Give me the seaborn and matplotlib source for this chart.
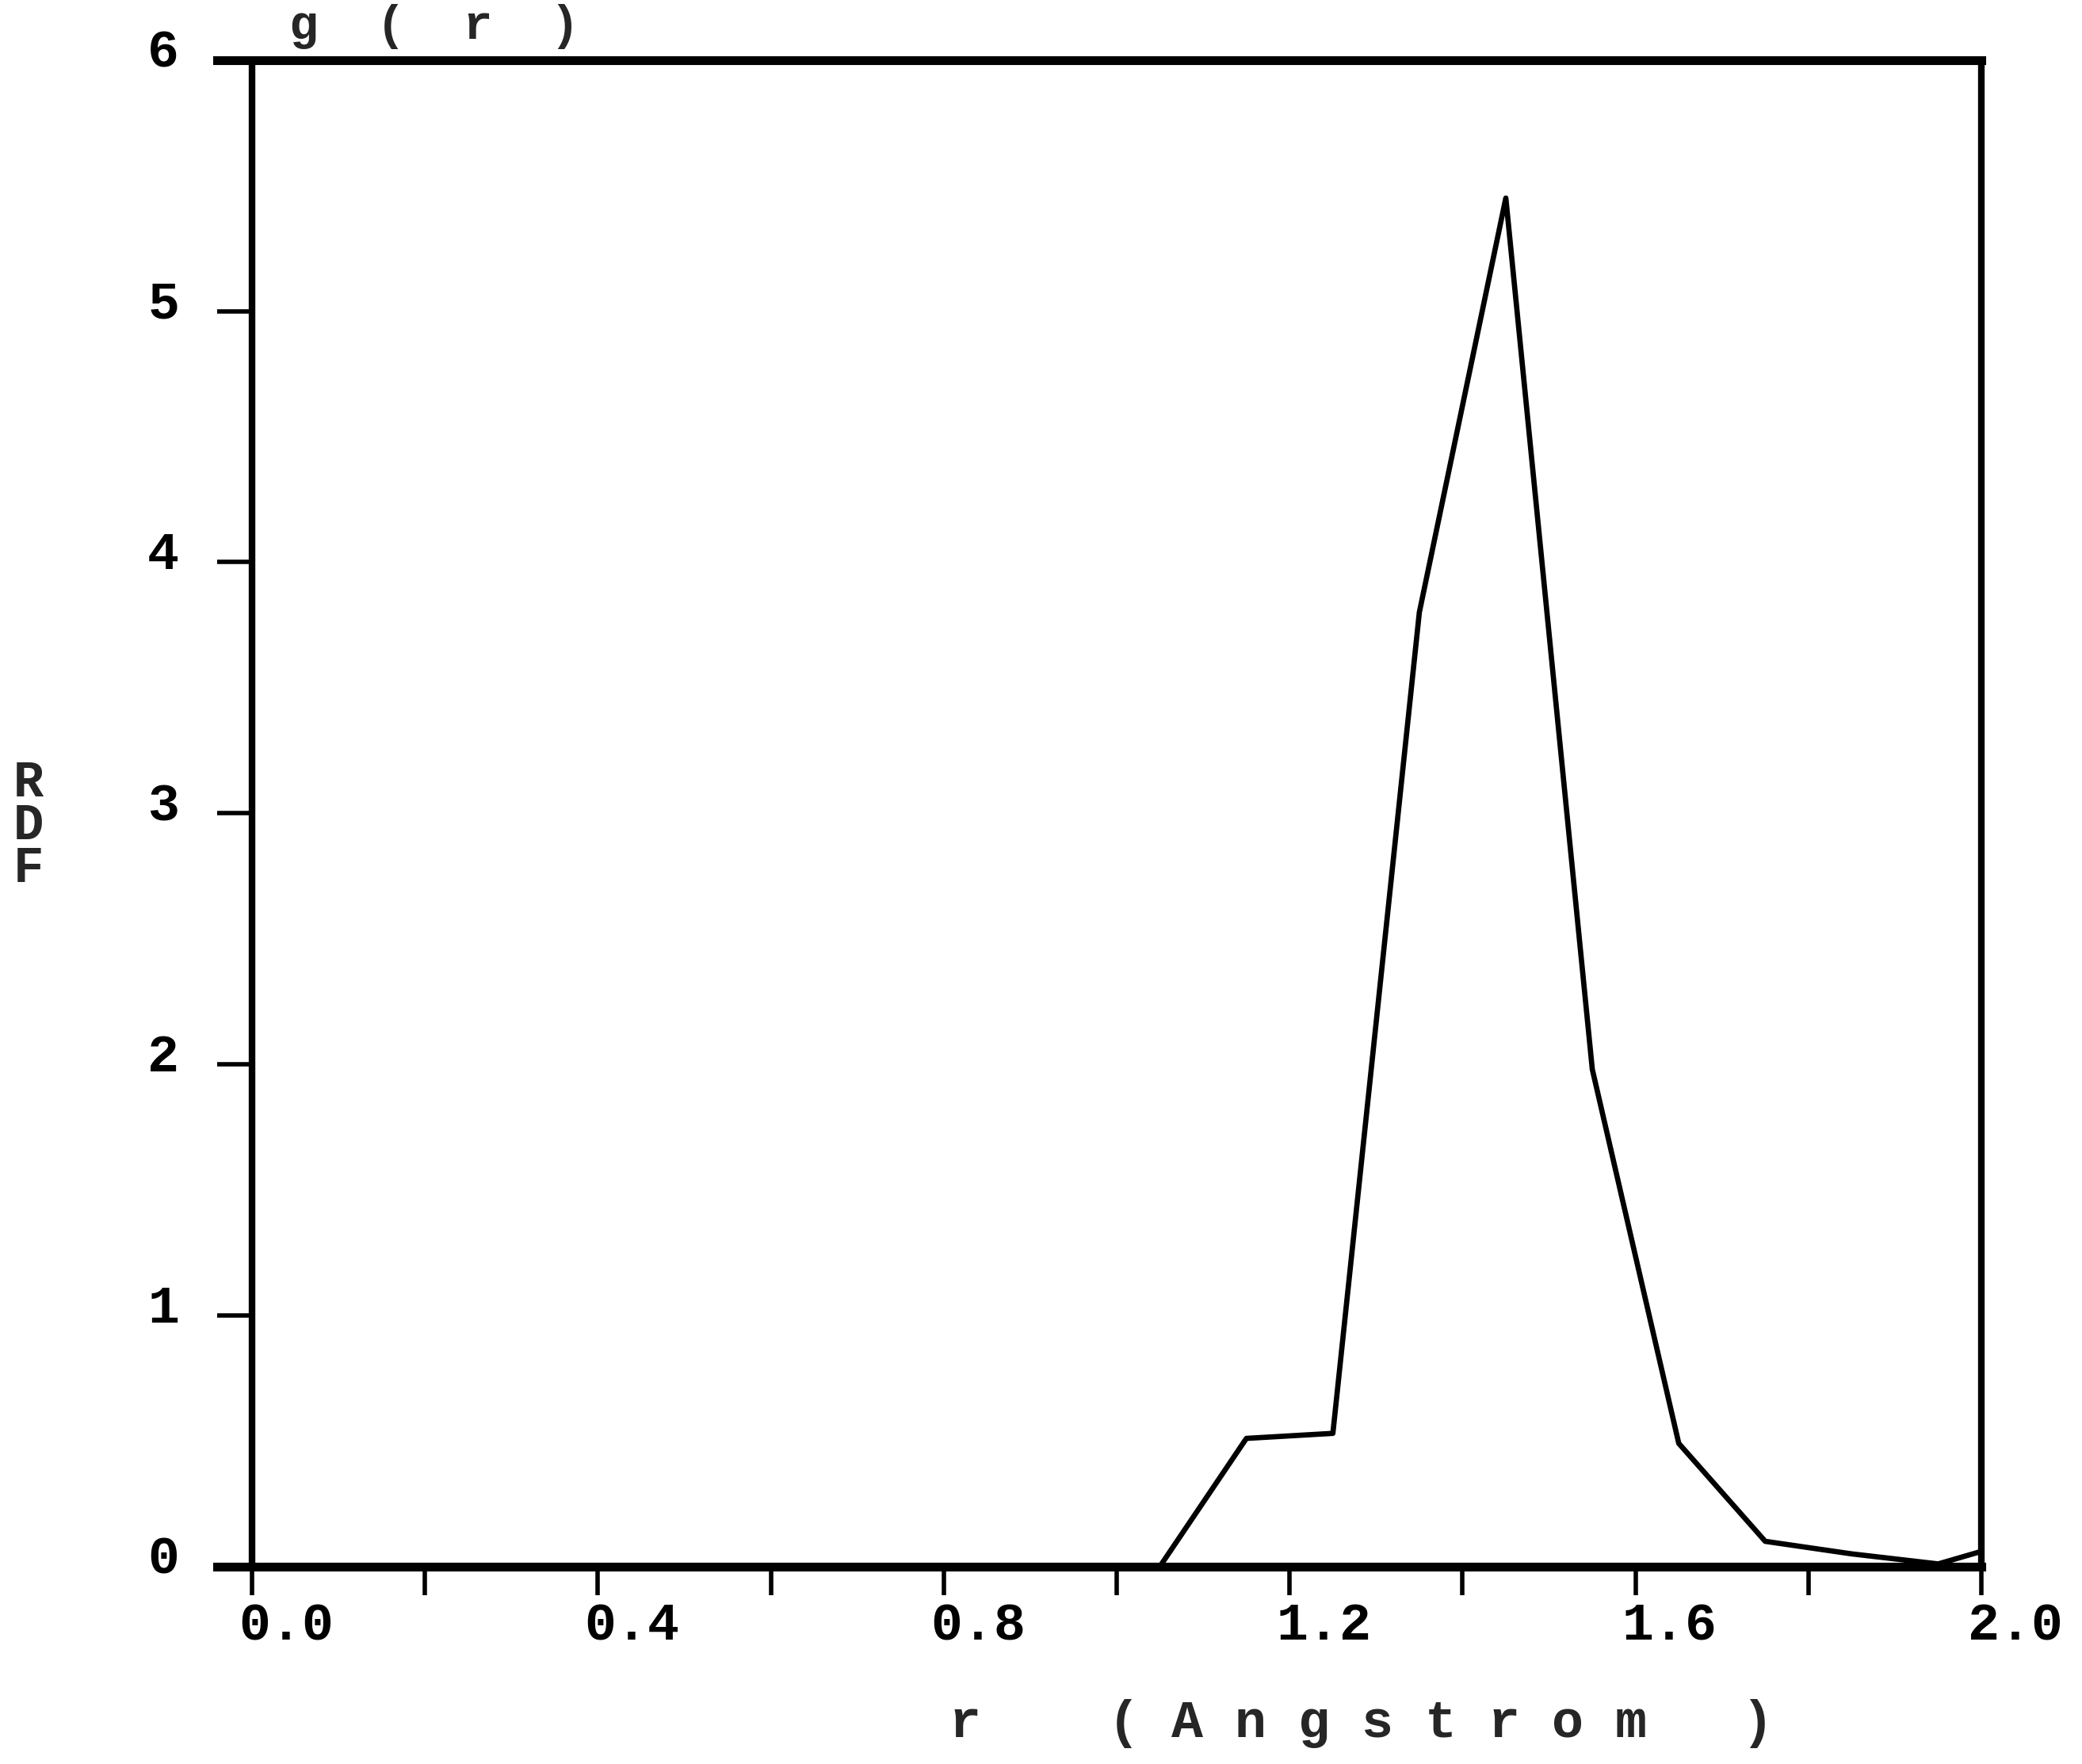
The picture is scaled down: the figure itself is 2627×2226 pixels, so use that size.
import matplotlib
matplotlib.use("Agg")
import matplotlib.pyplot as plt
import matplotlib.transforms as mtransforms
import seaborn as sns
import pandas as pd

# radial distribution data
r_values = [0.0, 1.05, 1.15, 1.25, 1.35, 1.45, 1.55, 1.65, 1.75, 1.85, 1.95, 2.0]
g_values = [0.0, 0.0, 0.51, 0.53, 3.8, 5.45, 1.98, 0.49, 0.10, 0.05, 0.01, 0.06]
x_ticks = [0.0, 0.4, 0.8, 1.2, 1.6, 2.0]
x_tick_labels = ["0.0", "0.4", "0.8", "1.2", "1.6", "2.0"]
x_minor = [0.2, 0.6, 1.0, 1.4, 1.8]
y_ticks = [0, 1, 2, 3, 4, 5, 6]

sns.set_style("white")
plt.rcParams["font.family"] = ["Liberation Mono", "DejaVu Sans"]
plt.rcParams["font.weight"] = "bold"

df = pd.DataFrame({"r": r_values, "g": g_values})

fig = plt.figure(figsize=(26.27, 22.26), dpi=100)
ax = fig.add_axes([0.121, 0.112, 0.8307, 0.854])
sns.lineplot(data=df, x="r", y="g", color="black", linewidth=4.8, ax=ax)

ax.set_xlim(0, 2.0)
ax.set_ylim(0, 6)
ax.set_xlabel("")
ax.set_ylabel("")

# frame
for side in ["left", "right"]:
    ax.spines[side].set_linewidth(6)
    ax.spines[side].set_color("black")
for side in ["top", "bottom"]:
    ax.spines[side].set_linewidth(8)
    ax.spines[side].set_color("black")
    ax.spines[side].set_bounds(-0.04, 2.0)

# ticks
ax.set_xticks(x_ticks)
ax.set_xticklabels(x_tick_labels)
ax.set_xticks(x_minor, minor=True)
ax.tick_params(axis="x", which="both", direction="out", length=26, width=4,
               bottom=True, top=False, pad=6, labelsize=48, colors="black")
ax.set_yticks(y_ticks)
ax.tick_params(axis="y", which="major", direction="out", length=32, width=4,
               left=True, right=False, pad=34, labelsize=48, colors="black")

shift_x = mtransforms.ScaledTranslation(-0.17, 0, fig.dpi_scale_trans)
for lab in ax.get_xticklabels():
    lab.set_horizontalalignment("left")
    lab.set_transform(lab.get_transform() + shift_x)
shift_y = mtransforms.ScaledTranslation(0, 0.15, fig.dpi_scale_trans)
for lab in ax.get_yticklabels():
    lab.set_transform(lab.get_transform() + shift_y)

# axis titles in the old letter-spaced style
fig.text(0.139, 0.985, "g  (  r  )", fontsize=44, ha="left", va="center")
fig.text(0.0065, 0.532, "R\nD\nF", fontsize=46, ha="left", va="center",
         linespacing=0.87)
fig.text(0.456, 0.023, "r    ( A n g s t r o m   )", fontsize=48,
         ha="left", va="center")

fig.savefig("out.png", dpi=100, facecolor="white")
